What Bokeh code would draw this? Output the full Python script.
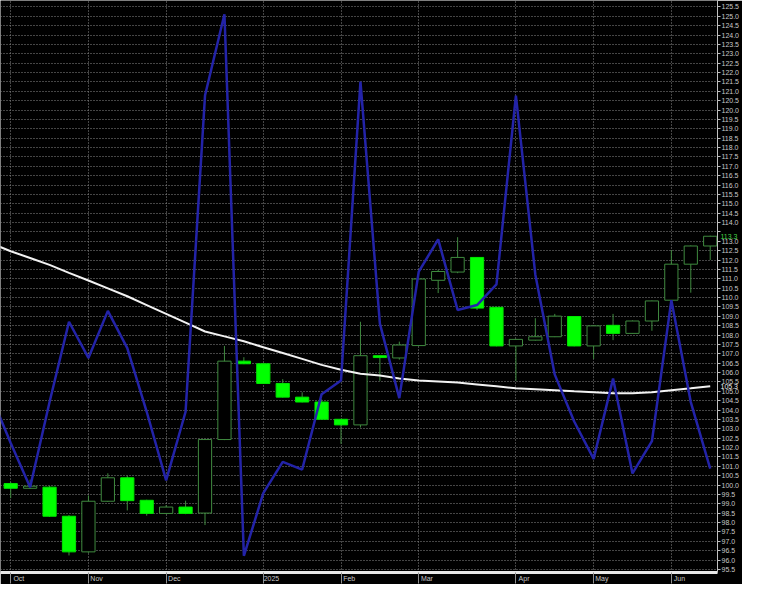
from bokeh.plotting import figure
from bokeh.models import (Range1d, FixedTicker, SingleIntervalTicker,
                          PrintfTickFormatter, LinearAxis)
from bokeh.embed import file_html
from bokeh.resources import INLINE

# ---------------- data (weekly bars, Oct 2024 - Jun 2025) ----------------
week_index = list(range(37))
opens  = [100.08, 99.83, 99.89, 98.34, 96.44, 99.14, 100.39, 99.19, 98.49, 98.83,
          98.51, 102.43, 106.61, 106.47, 105.42, 104.69, 104.43, 103.51, 103.21, 106.90,
          106.78, 107.44, 110.92, 111.36, 112.14, 109.48, 107.42, 107.73, 107.91, 108.99,
          107.42, 108.52, 108.09, 108.75, 109.86, 111.78, 112.75]
highs  = [100.16, 100.29, 99.95, 98.40, 99.45, 100.63, 100.51, 99.22, 98.93, 99.17,
          102.45, 107.42, 106.82, 106.50, 105.65, 104.95, 104.57, 103.53, 108.71, 106.92,
          107.65, 111.00, 111.48, 113.22, 112.16, 109.50, 107.80, 108.90, 109.13, 109.01,
          108.51, 109.13, 108.78, 109.84, 112.53, 112.78, 113.30]
lows   = [99.30, 99.80, 98.30, 96.25, 96.39, 99.10, 98.65, 98.37, 98.45, 98.45,
          97.87, 102.40, 106.45, 105.40, 104.67, 104.41, 103.49, 102.20, 103.07, 105.56,
          106.69, 107.42, 110.24, 111.30, 109.34, 107.40, 105.56, 107.70, 107.89, 107.40,
          106.73, 107.73, 108.07, 108.23, 109.84, 110.26, 112.00]
closes = [99.83, 99.94, 98.34, 96.44, 99.14, 100.39, 99.17, 98.49, 98.83, 98.49,
          102.43, 106.61, 106.47, 105.42, 104.69, 104.43, 103.51, 103.21, 106.90, 106.80,
          107.47, 110.99, 111.39, 112.14, 109.44, 107.42, 107.77, 107.91, 109.01, 107.42,
          108.49, 108.09, 108.75, 109.82, 111.78, 112.75, 113.27]

# line series start one week before the first visible bar
line_index = list(range(-1, 37))
ma_values = [112.89, 112.47, 112.11, 111.74, 111.32, 110.91, 110.49, 110.07, 109.60, 109.13,
             108.66, 108.19, 107.93, 107.67, 107.35, 107.04, 106.73, 106.41, 106.15, 105.94,
             105.84, 105.68, 105.58, 105.53, 105.47, 105.37, 105.27, 105.16, 105.11, 105.06,
             105.00, 104.95, 104.90, 104.90, 104.95, 105.06, 105.16, 105.27]
osc_values = [104.74, 102.24, 99.89, 104.43, 108.71, 106.78, 109.29, 107.30, 103.91, 100.25,
              103.91, 120.77, 125.11, 96.23, 99.57, 101.24, 100.83, 104.85, 105.58, 121.51,
              108.61, 104.64, 111.38, 113.10, 109.34, 109.60, 110.70, 120.77, 111.22, 105.89,
              103.39, 101.40, 105.68, 100.62, 102.34, 109.86, 104.43, 100.88]

month_pos = [0, 4, 8, 13, 17, 21, 26, 30, 34]
month_labels = ["Oct", "Nov", "Dec", "2025", "Feb", "Mar", "Apr", "May", "Jun"]

# ---------------- figure ----------------
p = figure(width=742, height=584, output_backend="svg", toolbar_location=None,
           x_range=Range1d(-0.525, 36.375), y_range=Range1d(95.34, 125.84),
           y_axis_location="right",
           background_fill_color="black", border_fill_color="black",
           min_border_left=0, min_border_top=0, min_border_right=0, min_border_bottom=0)
p.outline_line_color = None

FONT = "Liberation Sans"

# y axis (right)
yt = SingleIntervalTicker(interval=0.5, num_minor_ticks=0)
p.yaxis.ticker = yt
p.yaxis.formatter = PrintfTickFormatter(format="%.1f")
p.yaxis.axis_line_color = "#c0c0c0"
p.yaxis.major_tick_line_color = "#c0c0c0"
p.yaxis.major_tick_out = 3
p.yaxis.major_tick_in = 0
p.yaxis.minor_tick_line_color = None
p.yaxis.minor_tick_out = 0
p.yaxis.minor_tick_in = 0
p.yaxis.major_label_text_color = "#c8c8c8"
p.yaxis.major_label_text_font = FONT
p.yaxis.major_label_text_font_size = "7px"
p.yaxis.major_label_standoff = 1
p.yaxis.major_label_overrides = {113.5: ""}   # covered by the last-close tag

# last-value tags, drawn over the price scale
for val, col in ((closes[-1], "#46d246"), (ma_values[-1], "#f0f0f0")):
    tag = LinearAxis(ticker=FixedTicker(ticks=[val]),
                     formatter=PrintfTickFormatter(format="%.1f"),
                     axis_line_color=None, major_tick_line_color=None,
                     minor_tick_line_color=None, major_tick_out=0, major_tick_in=0,
                     minor_tick_out=0, minor_tick_in=0,
                     major_label_text_color=col, major_label_text_font=FONT,
                     major_label_text_font_size="7px", major_label_standoff=-22)
    p.add_layout(tag, "right")

# x axis (below): separators as minor ticks, labels just right of them
label_shift = 0.42
label_ticks = [m + label_shift for m in month_pos]
p.xaxis.ticker = FixedTicker(ticks=label_ticks, minor_ticks=month_pos)
p.xaxis.major_label_overrides = {t: lab for t, lab in zip(label_ticks, month_labels)}
p.xaxis.major_tick_line_color = None
p.xaxis.major_tick_out = 0
p.xaxis.major_tick_in = 0
p.xaxis.minor_tick_line_color = "#909090"
p.xaxis.minor_tick_out = 11
p.xaxis.minor_tick_in = 0
p.xaxis.axis_line_color = "#e8e8e8"
p.xaxis.axis_line_width = 3
p.xaxis.major_label_text_color = "#c8c8c8"
p.xaxis.major_label_text_font = FONT
p.xaxis.major_label_text_font_size = "7px"
p.xaxis.major_label_standoff = -9

# grids
p.ygrid.ticker = yt
p.ygrid.grid_line_color = "#8a8a8a"
p.ygrid.grid_line_dash = "1 2"
p.xgrid.ticker = FixedTicker(ticks=month_pos)
p.xgrid.grid_line_color = "#8a8a8a"
p.xgrid.grid_line_dash = "1 2"

# candles
up_x = [i for i in week_index if closes[i] >= opens[i]]
dn_x = [i for i in week_index if closes[i] < opens[i]]
p.segment(x0=week_index, y0=lows, x1=week_index, y1=highs,
          line_color="#3f8a3f", line_width=1)
p.vbar(x=up_x, width=0.68, bottom=[opens[i] for i in up_x], top=[closes[i] for i in up_x],
       fill_color="black", line_color="#3f8a3f", line_width=1)
p.vbar(x=dn_x, width=0.68, top=[opens[i] for i in dn_x], bottom=[closes[i] for i in dn_x],
       fill_color="#00ff00", line_color="#00e600", line_width=1)

# lines
p.line(line_index, ma_values, line_color="#f2f2f2", line_width=2)
p.line(line_index, osc_values, line_color="#2323a8", line_width=2.5)

open("out.html", "w").write(file_html(p, INLINE))
